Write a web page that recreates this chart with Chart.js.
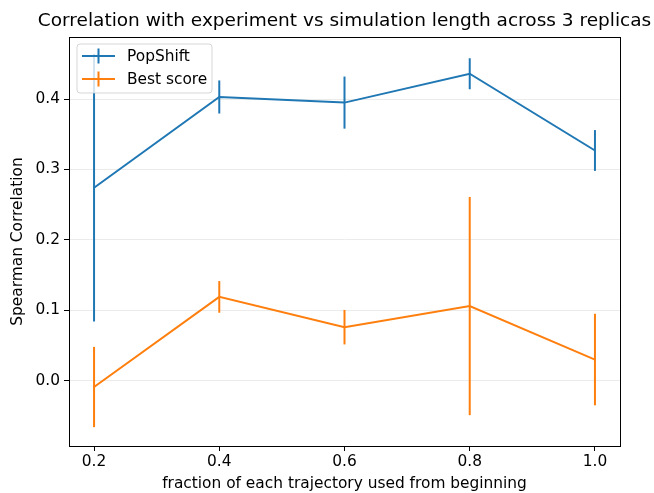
<!DOCTYPE html>
<html>
<head>
<meta charset="utf-8">
<script src="https://cdn.jsdelivr.net/npm/chart.js@4/dist/chart.umd.min.js"></script>
<style>
  html, body { margin: 0; padding: 0; background: #fff; }
  #wrap { width: 654px; height: 493px; position: relative; }
</style>
</head>
<body>
<div id="wrap"><canvas id="c" width="654" height="493"></canvas></div>
<script>
// Fraction of each trajectory used (from the beginning)
const fractions = [0.2, 0.4, 0.6, 0.8, 1.0];

// Mean Spearman correlation across 3 replicas and its spread
const popShiftMean = [0.274, 0.403, 0.395, 0.436, 0.327];
const popShiftErr  = [0.190, 0.0235, 0.037, 0.022, 0.029];
const bestScoreMean = [-0.009, 0.119, 0.076, 0.106, 0.030];
const bestScoreErr  = [0.057, 0.0225, 0.0245, 0.155, 0.065];

const xTicks = [0.2, 0.4, 0.6, 0.8, 1.0];
const yTicks = [0.0, 0.1, 0.2, 0.3, 0.4];

const titleText = 'Correlation with experiment vs simulation length across 3 replicas';
const FONT = "'DejaVu Sans', sans-serif";
const LABEL_SIZE = 15.4;
const TITLE_SIZE = 18.5;

function points(xs, ys) {
  return xs.map((x, i) => ({ x: x, y: ys[i] }));
}

// Vertical error bars (no caps), drawn through the chart's scales
const errorBars = {
  id: 'errorBars',
  afterDatasetsDraw(chart) {
    const ctx = chart.ctx;
    const xs = chart.scales.x, ys = chart.scales.y;
    chart.data.datasets.forEach(ds => {
      if (!ds.errors) return;
      ctx.save();
      ctx.strokeStyle = ds.borderColor;
      ctx.lineWidth = 2;
      ctx.lineCap = 'butt';
      ds.data.forEach((p, i) => {
        const e = ds.errors[i];
        const px = xs.getPixelForValue(p.x);
        ctx.beginPath();
        ctx.moveTo(px, ys.getPixelForValue(p.y - e));
        ctx.lineTo(px, ys.getPixelForValue(p.y + e));
        ctx.stroke();
      });
      ctx.restore();
    });
  }
};

// Axes frame, legend box and title
const decorations = {
  id: 'decorations',
  afterDraw(chart) {
    const ctx = chart.ctx;
    const a = chart.chartArea;
    ctx.save();
    // frame
    ctx.strokeStyle = '#000';
    ctx.lineWidth = 1;
    ctx.strokeRect(Math.round(a.left) + 0.5, Math.round(a.top) + 0.5,
                   Math.round(a.right - a.left), Math.round(a.bottom - a.top));

    // legend
    const lx = 77, ly = 44, lw = 135, lh = 49, r = 3;
    ctx.beginPath();
    ctx.moveTo(lx + r, ly);
    ctx.lineTo(lx + lw - r, ly);
    ctx.quadraticCurveTo(lx + lw, ly, lx + lw, ly + r);
    ctx.lineTo(lx + lw, ly + lh - r);
    ctx.quadraticCurveTo(lx + lw, ly + lh, lx + lw - r, ly + lh);
    ctx.lineTo(lx + r, ly + lh);
    ctx.quadraticCurveTo(lx, ly + lh, lx, ly + lh - r);
    ctx.lineTo(lx, ly + r);
    ctx.quadraticCurveTo(lx, ly, lx + r, ly);
    ctx.closePath();
    ctx.fillStyle = 'rgba(255,255,255,0.8)';
    ctx.fill();
    ctx.strokeStyle = 'rgba(204,204,204,0.8)';
    ctx.lineWidth = 1;
    ctx.stroke();

    ctx.font = LABEL_SIZE + 'px ' + FONT;
    ctx.textBaseline = 'middle';
    ctx.textAlign = 'left';
    chart.data.datasets.forEach((ds, i) => {
      const cy = 56 + i * 23;
      ctx.strokeStyle = ds.borderColor;
      ctx.lineWidth = 2;
      ctx.beginPath();
      ctx.moveTo(82, cy);
      ctx.lineTo(115, cy);
      ctx.moveTo(98.5, cy - 7.5);
      ctx.lineTo(98.5, cy + 7.5);
      ctx.stroke();
      ctx.fillStyle = '#000';
      ctx.fillText(ds.label, 127, cy + 1);
    });

    // title
    ctx.font = TITLE_SIZE + 'px ' + FONT;
    ctx.textAlign = 'center';
    ctx.textBaseline = 'middle';
    ctx.fillStyle = '#000';
    ctx.fillText(titleText, (a.left + a.right) / 2, 21);
    ctx.restore();
  }
};

const tickFont = { family: FONT, size: LABEL_SIZE };

new Chart(document.getElementById('c'), {
  type: 'line',
  data: {
    datasets: [
      {
        label: 'PopShift',
        data: points(fractions, popShiftMean),
        errors: popShiftErr,
        borderColor: '#1f77b4',
        backgroundColor: '#1f77b4',
        borderWidth: 2,
        pointRadius: 0,
        tension: 0,
        fill: false
      },
      {
        label: 'Best score',
        data: points(fractions, bestScoreMean),
        errors: bestScoreErr,
        borderColor: '#ff7f0e',
        backgroundColor: '#ff7f0e',
        borderWidth: 2,
        pointRadius: 0,
        tension: 0,
        fill: false
      }
    ]
  },
  options: {
    responsive: false,
    animation: false,
    devicePixelRatio: 1,
    layout: { padding: { left: 0, top: 37, right: 34, bottom: 0 } },
    plugins: {
      legend: { display: false },
      title: { display: false },
      tooltip: { enabled: false }
    },
    scales: {
      x: {
        type: 'linear',
        min: 0.16,
        max: 1.04,
        afterBuildTicks: s => { s.ticks = xTicks.map(v => ({ value: v })); },
        afterFit: s => { s.height = 47; },
        ticks: {
          font: tickFont,
          color: '#000',
          padding: 2,
          maxRotation: 0,
          autoSkip: false,
          callback: v => v.toFixed(1)
        },
        grid: {
          drawOnChartArea: false,
          tickLength: 5,
          tickColor: '#000',
          lineWidth: 1
        },
        border: { display: false },
        title: {
          display: true,
          text: 'fraction of each trajectory used from beginning',
          font: tickFont,
          color: '#000',
          padding: { top: 0, bottom: 0 }
        }
      },
      y: {
        type: 'linear',
        min: -0.0928,
        max: 0.4882,
        afterBuildTicks: s => { s.ticks = yTicks.map(v => ({ value: v })); },
        afterFit: s => { s.width = 69; },
        ticks: {
          font: tickFont,
          color: '#000',
          padding: 4,
          autoSkip: false,
          callback: v => v.toFixed(1)
        },
        grid: {
          color: '#ebebeb',
          lineWidth: 1,
          tickLength: 5,
          tickColor: '#000'
        },
        border: { display: false },
        title: {
          display: true,
          text: 'Spearman Correlation',
          font: tickFont,
          color: '#000',
          padding: { top: 9, bottom: 0 }
        }
      }
    }
  },
  plugins: [errorBars, decorations]
});
</script>
</body>
</html>
